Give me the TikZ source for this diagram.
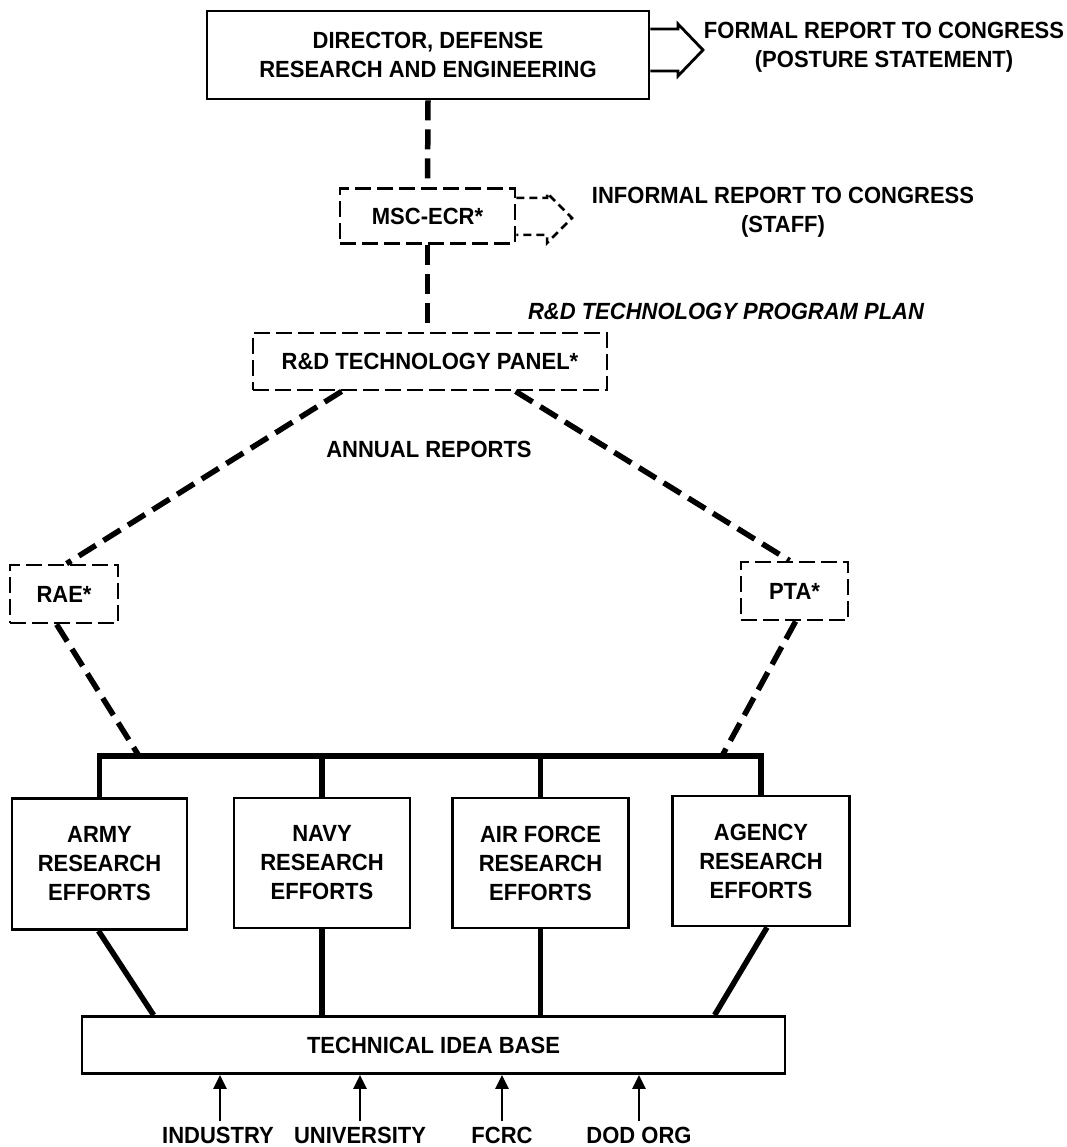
\documentclass[tikz,border=0pt]{standalone}
\usepackage{fontspec}
\setmainfont{Liberation Sans}[FakeStretch=0.94]
\usetikzlibrary{arrows.meta,calc}
\begin{document}
\begin{tikzpicture}[x=1pt,y=-1pt,
  every node/.style={font=\fontsize{23.4}{29}\selectfont\bfseries, inner sep=0pt, align=center},
  solidbox/.style={draw, line width=2.8pt, rectangle},
  dashbox/.style={draw, line width=2.8pt, rectangle, dash pattern=on 16pt off 6pt},
  heavydash/.style={line width=5.5pt, dash pattern=on 20pt off 9pt},
  heavyline/.style={line width=5.5pt},
  finedash/.style={line width=2.5pt, dash pattern=on 8pt off 5pt},
  hollow/.style={line width=2.8pt, line join=miter},
  uparrow/.style={line width=2.5pt, -{Triangle[width=13pt,length=14pt]}}]
\useasboundingbox (0,0) rectangle (1066,1147);
\fill[white] (0,0) rectangle (1066,1147);

% boxes
\node[solidbox, minimum width=442pt, minimum height=88pt] (dir) at (428,55) {DIRECTOR, DEFENSE\\RESEARCH AND ENGINEERING};
\node[dashbox, minimum width=175pt, minimum height=55pt] (msc) at (427.5,216) {MSC-ECR*};
\node[dashbox, minimum width=354pt, minimum height=57pt] (panel) at (430,361.5) {R\&D TECHNOLOGY PANEL*};
\node[dashbox, minimum width=108pt, minimum height=58pt] (rae) at (64,594) {RAE*};
\node[dashbox, minimum width=107pt, minimum height=58pt] (pta) at (794.5,591) {PTA*};

\node[solidbox, minimum width=175pt, minimum height=131pt] (army) at (99.5,864) {ARMY\\RESEARCH\\EFFORTS};
\node[solidbox, minimum width=176pt, minimum height=130pt] (navy) at (322,863) {NAVY\\RESEARCH\\EFFORTS};
\node[solidbox, minimum width=176pt, minimum height=130pt] (air) at (540.5,863) {AIR FORCE\\RESEARCH\\EFFORTS};
\node[solidbox, minimum width=177pt, minimum height=130pt] (agency) at (761,861) {AGENCY\\RESEARCH\\EFFORTS};
\node[solidbox, minimum width=703pt, minimum height=57pt] (base) at (433.5,1045) {TECHNICAL IDEA BASE};

% free texts
\node (formal) at (884,47.5) {FORMAL REPORT TO CONGRESS\\(POSTURE STATEMENT)};
\node (informal) at (783,212.5) {INFORMAL REPORT TO CONGRESS\\(STAFF)};
\node[font=\fontsize{23.4}{29}\selectfont\bfseries\itshape] (plan) at (726,311) {R\&D TECHNOLOGY PROGRAM PLAN};
\node (annual) at (429,449) {ANNUAL REPORTS};

\node (ind) at (218,1135) {INDUSTRY};
\node (uni) at (360,1135) {UNIVERSITY};
\node (fcrc) at (502,1135) {FCRC};
\node (dod) at (639,1135) {DOD ORG};

% hollow arrows
\draw[hollow] (dir.east |- 0,29) -- (678,29) -- (678,24) -- (703,50) -- (678,76) -- (678,71) -- (dir.east |- 0,71);
\draw[finedash] (msc.east |- 0,198) -- (547,198) -- (547,193) -- (572,218) -- (547,243) -- (547,235) -- (msc.east |- 0,235);

% vertical dashed chain
\draw[heavydash] (dir.south) -- (msc.north);
\draw[heavydash] (msc.south) -- (msc.south |- panel.north);

% diagonals
\coordinate (busL) at (139,756);
\coordinate (busR) at (722,756);
\coordinate (busY) at (0,756);
\draw[heavydash] ([xshift=90pt]panel.south west) -- ([xshift=58pt]rae.north west);
\draw[heavydash] ([xshift=264pt]panel.south west) -- ([xshift=-5pt]pta.north);
\draw[heavydash] ([xshift=48pt]rae.south west) -- (busL);
\draw[heavydash] ([xshift=56pt]pta.south west) -- (busR);

% bus
\draw[heavyline, line join=miter] (army.north) -- (army.north |- busY) -- (agency.north |- busY) -- (agency.north);
\draw[heavyline] (navy.north) -- (navy.north |- busY);
\draw[heavyline] (air.north) -- (air.north |- busY);

% to technical idea base
\draw[heavyline] ([xshift=-1pt]army.south) -- ([xshift=73pt]base.north west);
\draw[heavyline] (navy.south) -- (navy.south |- base.north);
\draw[heavyline] (air.south) -- (air.south |- base.north);
\draw[heavyline] ([xshift=6pt]agency.south) -- ([xshift=634pt]base.north west);

% inputs
\draw[uparrow] ([xshift=2pt,yshift=6pt]ind.north) -- ([xshift=2pt]ind.north |- base.south);
\draw[uparrow] ([yshift=6pt]uni.north) -- (uni.north |- base.south);
\draw[uparrow] ([yshift=6pt]fcrc.north) -- (fcrc.north |- base.south);
\draw[uparrow] ([yshift=6pt]dod.north) -- (dod.north |- base.south);
\end{tikzpicture}
\end{document}
